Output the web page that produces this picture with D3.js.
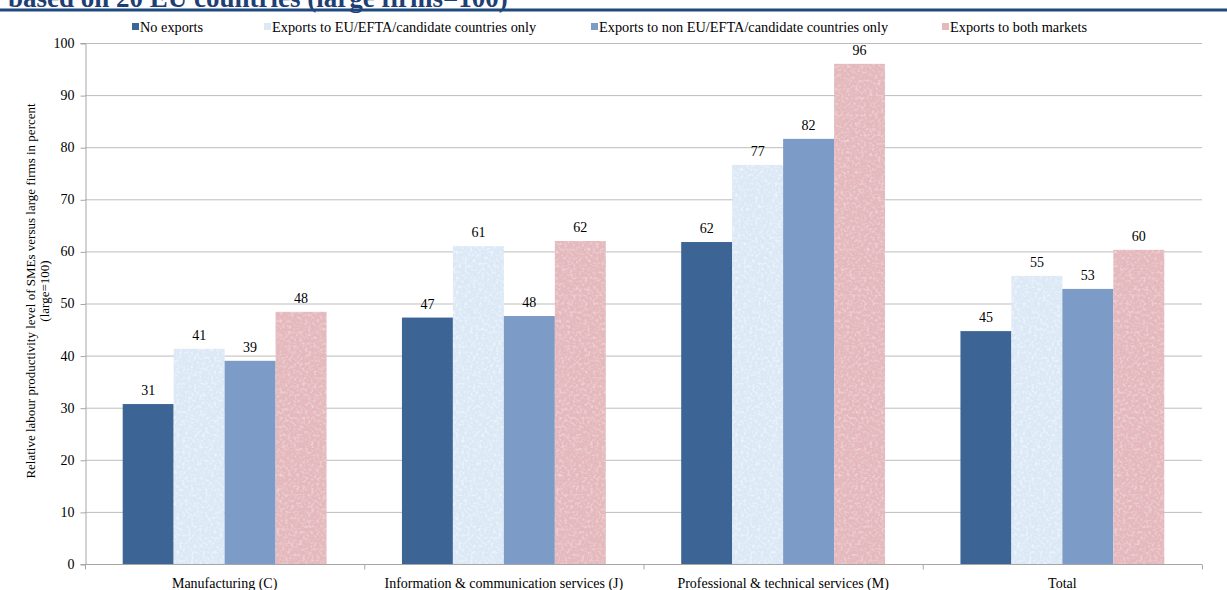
<!DOCTYPE html>
<html>
<head>
<meta charset="utf-8">
<script src="https://cdn.jsdelivr.net/npm/d3@7/dist/d3.min.js"></script>
<style>
  html, body { margin: 0; padding: 0; background: #fff; }
  svg, svg text { font-family: "Liberation Serif", "Times New Roman", Times, serif; }
</style>
</head>
<body>
<svg id="chart" width="1227" height="590"></svg>
<script>
// Sectors shown along the x axis
const categories = [
  "Manufacturing (C)",
  "Information & communication services (J)",
  "Professional & technical services (M)",
  "Total"
];
// Export status groups
const seriesNames = [
  "No exports",
  "Exports to EU/EFTA/candidate countries only",
  "Exports to non EU/EFTA/candidate countries only",
  "Exports to both markets"
];
// Relative labour productivity (large firms = 100), one array per series
const noExports   = [30.7, 47.3, 61.8, 44.7];
const euOnly      = [41.3, 61.0, 76.6, 55.3];
const nonEuOnly   = [39.0, 47.6, 81.6, 52.8];
const bothMarkets = [48.4, 62.0, 96.0, 60.3];
const yTicks = [0, 10, 20, 30, 40, 50, 60, 70, 80, 90, 100];

const seriesValues = [noExports, euOnly, nonEuOnly, bothMarkets];
const colors = ["#3c6595", "#dbe8f6", "#7c9bc7", "#e4b8bc"];
const textured = [false, true, false, true];
const FONT = "'Liberation Serif', 'Times New Roman', Times, serif";
const FS = 14;

const svg = d3.select("#chart").attr("font-family", FONT);
const W = 1227, H = 590;
const plot = { left: 85, right: 1202, top: 43, bottom: 564 };

// texture filters for the patterned fills
const defs = svg.append("defs");
function textureFilter(id, seed, strength) {
  const f = defs.append("filter").attr("id", id)
    .attr("x", 0).attr("y", 0).attr("width", 1).attr("height", 1);
  f.append("feTurbulence").attr("type", "fractalNoise")
    .attr("baseFrequency", 0.35).attr("numOctaves", 3).attr("seed", seed).attr("result", "noise");
  f.append("feColorMatrix").attr("in", "noise").attr("type", "matrix")
    .attr("values", `0 0 0 0 1  0 0 0 0 1  0 0 0 0 1  ${strength} 0 0 0 ${-strength * 0.45}`)
    .attr("result", "speck");
  f.append("feComposite").attr("in", "speck").attr("in2", "SourceGraphic").attr("operator", "in").attr("result", "spk");
  f.append("feMerge").call(m => {
    m.append("feMergeNode").attr("in", "SourceGraphic");
    m.append("feMergeNode").attr("in", "spk");
  });
}
textureFilter("texBlue", 3, 1.4);
textureFilter("texPink", 7, 0.9);

// header remnant: title and rule
svg.append("text")
  .attr("x", 8).attr("y", 7)
  .attr("font-size", 27).attr("font-weight", "bold")
  .attr("fill", "#1f3f74")
  .text("based on 20 EU countries (large firms=100)");
svg.append("rect")
  .attr("x", 0).attr("y", 8.5).attr("width", W).attr("height", 3)
  .attr("fill", "#1f497d");

// scales
const y = d3.scaleLinear().domain([0, 100]).range([plot.bottom, plot.top]);
const x0 = d3.scaleBand().domain(categories).range([plot.left, plot.right])
  .paddingInner(0.27).paddingOuter(0.135);
const x1 = d3.scaleBand().domain(d3.range(seriesNames.length)).range([0, x0.bandwidth()]);

// gridlines
svg.append("g").selectAll("line").data(yTicks.filter(d => d > 0)).join("line")
  .attr("x1", plot.left).attr("x2", plot.right)
  .attr("y1", d => y(d) + 0.5).attr("y2", d => y(d) + 0.5)
  .attr("stroke", "#bdbdbd").attr("stroke-width", 1);

// y axis
const yAxis = svg.append("g")
  .attr("transform", `translate(${plot.left + 0.5},0)`)
  .call(d3.axisLeft(y).tickValues(yTicks).tickSize(5).tickPadding(6).tickFormat(d3.format("d")));
yAxis.select(".domain").attr("stroke", "#a6a6a6");
yAxis.selectAll(".tick line").attr("stroke", "#a6a6a6").attr("transform", "translate(0,0.5)");
yAxis.selectAll("text").attr("font-size", FS).attr("fill", "#000")
  .attr("font-family", FONT);

// bars
const groups = svg.append("g").selectAll("g").data(categories).join("g")
  .attr("transform", d => `translate(${x0(d)},0)`);

groups.each(function (cat, ci) {
  const g = d3.select(this);
  seriesValues.forEach((vals, si) => {
    const v = vals[ci];
    g.append("rect")
      .attr("x", x1(si)).attr("width", x1.bandwidth())
      .attr("y", y(v)).attr("height", y(0) - y(v))
      .attr("fill", colors[si])
      .attr("filter", textured[si] ? (si === 1 ? "url(#texBlue)" : "url(#texPink)") : null);
    g.append("text")
      .attr("x", x1(si) + x1.bandwidth() / 2).attr("y", y(v) - 9)
      .attr("text-anchor", "middle").attr("font-size", FS).attr("fill", "#000")
      .attr("font-family", FONT)
      .text(Math.round(v));
  });
});

// x axis
const xAxisG = svg.append("g").attr("transform", `translate(0,${plot.bottom + 0.5})`);
xAxisG.append("line").attr("x1", plot.left).attr("x2", plot.right)
  .attr("stroke", "#a6a6a6");
const step = x0.step();
xAxisG.selectAll("line.tk").data(d3.range(categories.length + 1)).join("line")
  .attr("class", "tk")
  .attr("x1", i => plot.left + 0.5 + i * step).attr("x2", i => plot.left + 0.5 + i * step)
  .attr("y1", 0).attr("y2", 5).attr("stroke", "#a6a6a6");
xAxisG.selectAll("text").data(categories).join("text")
  .attr("x", d => x0(d) + x0.bandwidth() / 2).attr("y", 23)
  .attr("text-anchor", "middle").attr("font-size", FS).attr("fill", "#000")
  .attr("font-family", FONT)
  .text(d => d);

// y axis title
const yTitle = svg.append("text")
  .attr("transform", "translate(35,291) rotate(-90)")
  .attr("text-anchor", "middle").attr("font-size", 13).attr("fill", "#000")
  .attr("font-family", FONT);
yTitle.append("tspan").attr("x", 0).attr("dy", 0)
  .text("Relative labour productivity level of SMEs versus large firms in percent");
yTitle.append("tspan").attr("x", 0).attr("dy", 14).text("(large=100)");

// legend
const legendX = [132, 264, 591, 942];
const legend = svg.append("g").selectAll("g").data(seriesNames).join("g")
  .attr("transform", (d, i) => `translate(${legendX[i]},23)`);
legend.append("rect").attr("x", 0).attr("y", 0).attr("width", 7).attr("height", 7)
  .attr("fill", (d, i) => colors[i]);
legend.append("text").attr("x", 8).attr("y", 9).attr("font-size", 14.3).attr("fill", "#000")
  .attr("font-family", FONT)
  .text(d => d);
</script>
</body>
</html>
